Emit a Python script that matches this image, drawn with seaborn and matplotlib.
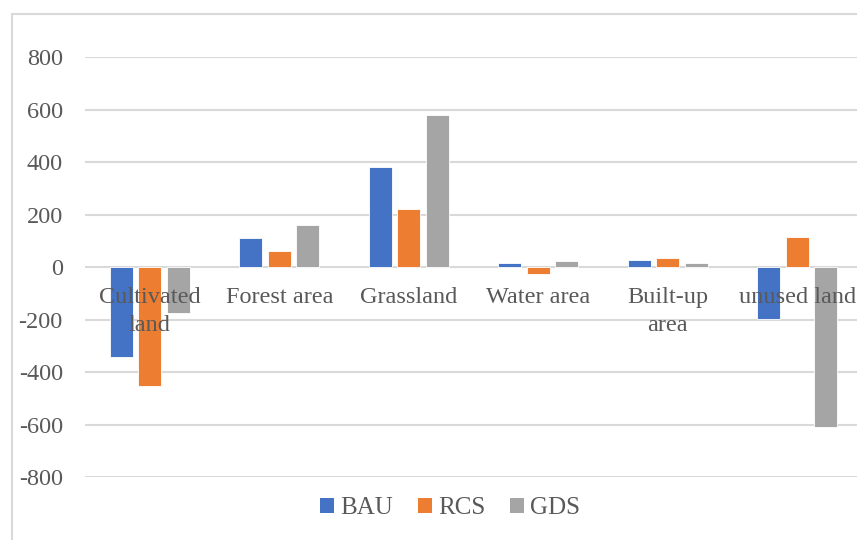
import matplotlib
matplotlib.use("Agg")
import matplotlib.pyplot as plt
import seaborn as sns
import pandas as pd
from matplotlib.patches import Rectangle

categories = ["Cultivated\nland", "Forest area", "Grassland", "Water area", "Built-up\narea", "unused land"]
series = ["BAU", "RCS", "GDS"]
bau = [-344, 111, 384, 16, 29, -197]
rcs = [-453, 63, 224, -27, 36, 117]
gds = [-175, 163, 581, 24, 15, -611]
colors = ["#4472C4", "#ED7D31", "#A5A5A5"]
yticks = [-800, -600, -400, -200, 0, 200, 400, 600, 800]

sns.set_theme(style="white")
plt.rcParams["font.family"] = ["Liberation Serif", "DejaVu Serif"]

rows = []
for name, vals in zip(series, [bau, rcs, gds]):
    for c, v in zip(categories, vals):
        rows.append({"category": c, "series": name, "value": v})
df = pd.DataFrame(rows)

fig = plt.figure(figsize=(8.57, 5.40), dpi=100)
ax = fig.add_axes([85 / 857, 1 - 477 / 540, (862 - 85) / 857, (477 - 57.5) / 540])

sns.barplot(data=df, x="category", y="value", hue="series", order=categories,
            hue_order=series, palette=colors, saturation=1, width=0.666, gap=0.2,
            errorbar=None, ax=ax, edgecolor="white", linewidth=0.6, legend=False)

ax.set_ylim(-800, 800)
ax.set_xlim(-0.5, len(categories) - 0.5)
ax.set_yticks(yticks)
ax.set_yticklabels([str(t) for t in yticks])
ax.yaxis.grid(True, color="#D9D9D9", linewidth=1.5)
ax.xaxis.grid(False)
ax.set_axisbelow(True)
ax.xaxis.set_zorder(5)
for s in ax.spines.values():
    s.set_visible(False)
ax.spines["bottom"].set_position(("data", 0))
ax.tick_params(axis="y", length=0, pad=16, labelsize=17.5, labelcolor="#595959")
ax.tick_params(axis="x", length=0, pad=14.5, labelsize=17.5, labelcolor="#595959")
for lbl in ax.get_xticklabels():
    lbl.set_linespacing(1.4)
ax.set_xlabel("")
ax.set_ylabel("")

handles = [Rectangle((0, 0), 1, 1, facecolor=c, edgecolor="none") for c in colors]
fig.legend(handles, series, loc="center", bbox_to_anchor=(450 / 857, 1 - 508 / 540),
           ncol=3, frameon=False, fontsize=18, labelcolor="#595959",
           handlelength=0.55, handleheight=0.55, handletextpad=0.25, columnspacing=1.0)

fig.add_artist(Rectangle((12 / 857, -0.1), 1.2, 1 - 14 / 540 + 0.1, transform=fig.transFigure,
                         fill=False, edgecolor="#D9D9D9", linewidth=1.5))

fig.savefig("out.png", dpi=100, facecolor="white")
